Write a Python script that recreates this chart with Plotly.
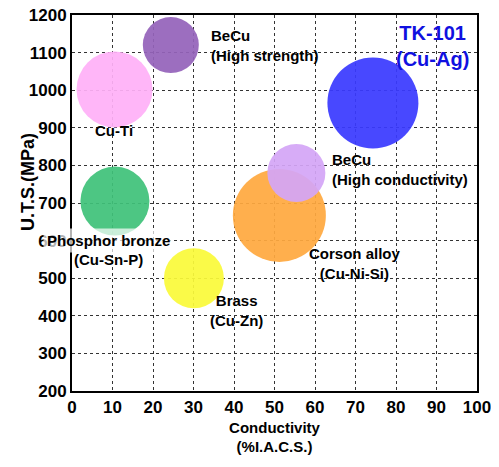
import plotly.graph_objects as go

# Bubble data
alloys = ['BeCu (High strength)', 'Cu-Ti', 'Phosphor bronze', 'Brass',
          'Corson alloy', 'BeCu (High conductivity)', 'TK-101']
conductivity = [24.4, 10.5, 10.6, 30.1, 51.2, 55.4, 74.3]
uts = [1120, 1002, 705, 500, 667, 780, 966]
bubble = [56, 76, 69, 60, 93, 58, 91]

label_text = ['BeCu<br>(High strength)', 'Cu-Ti', 'Phosphor bronze', '(Cu-Sn-P)',
              'Brass<br>(Cu-Zn)', 'Corson alloy<br>(Cu-Ni-Si)',
              'BeCu<br>(High conductivity)', 'TK-101<br>(Cu-Ag)']
label_x = [34, 10.4, 8.9, 8.9, 40.7, 69.9, 64, 89]
label_y = [1120, 892, 601, 551, 415, 540, 790, 1118]

x_ticks = list(range(0, 101, 10))
y_ticks = list(range(200, 1201, 100))

colors = ['#9563BA', '#FFB0F8', '#3FC27A', '#FAFA3A', '#FFA93F', '#D4A6F6', '#3A3AFF']

FONT = 'Liberation Sans, Arial'

fig = go.Figure()
fig.add_trace(go.Scatter(
    x=conductivity, y=uts, mode='markers', text=alloys,
    marker=dict(size=bubble, sizemode='diameter', color=colors,
                opacity=0.93, line=dict(width=0)),
    hoverinfo='text', showlegend=False,
))

for i, t in enumerate(label_text):
    is_tk = t.startswith('TK')
    is_pb = t.startswith('Phosphor')
    left = t.startswith('BeCu')
    fig.add_annotation(
        x=label_x[i], y=label_y[i], text=f'<b>{t}</b>', showarrow=False,
        xanchor='left' if left else 'center', align='left' if left else 'center',
        font=dict(family=FONT, size=20 if is_tk else 15,
                  color='#1010E0' if is_tk else 'black'),
        # this label half covers the "600" tick in the reference
        bgcolor='rgba(255,255,255,0.7)' if is_pb else None,
        borderpad=3 if is_pb else 0,
    )

# y-axis title sits a bit above the middle in the reference
fig.add_annotation(
    xref='paper', yref='paper', x=-56 / 405, y=(391 - 182) / 376,
    text='<b>U.T.S.(MPa)</b>', textangle=-90, showarrow=False,
    font=dict(family=FONT, size=18, color='black'),
)

axis_font = dict(family=FONT, size=17, color='black')
fig.update_xaxes(
    range=[0, 100], tickvals=x_ticks, ticktext=[f'<b>{v}</b>' for v in x_ticks],
    tickfont=axis_font, showgrid=True, gridcolor='#333333', griddash='dot',
    gridwidth=1, showline=True, linecolor='black', linewidth=2, mirror=True,
    zeroline=False, ticks='', automargin=False, ticklabeloverflow='allow',
    title=dict(text='<b>Conductivity<br>(%I.A.C.S.)</b>',
               font=dict(family=FONT, size=15, color='black'), standoff=6),
)
fig.update_yaxes(
    range=[200, 1200], tickvals=y_ticks, ticktext=[f'<b>{v}</b>' for v in y_ticks],
    tickfont=axis_font, showgrid=True, gridcolor='#333333', griddash='dot',
    gridwidth=1, showline=True, linecolor='black', linewidth=2, mirror=True,
    zeroline=False, ticks='', automargin=False, ticklabeloverflow='allow',
)
# page body adds an 8px offset, so the figure is a little smaller than the window
fig.update_layout(
    width=491, height=459, plot_bgcolor='white', paper_bgcolor='white',
    margin=dict(l=64, r=22, t=7, b=76),
)
fig.write_html('out.html')
